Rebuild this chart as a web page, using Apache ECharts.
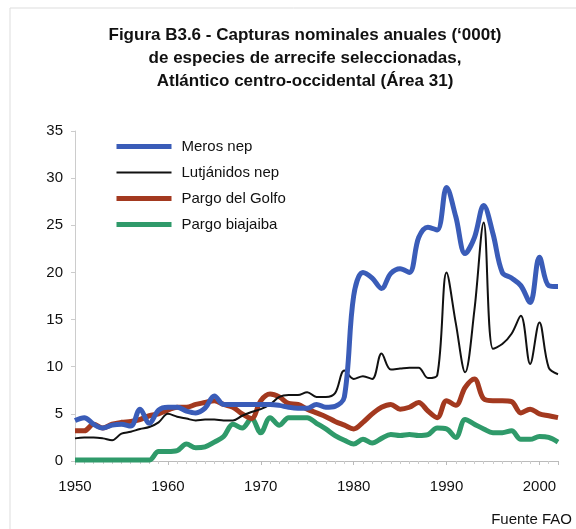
<!DOCTYPE html>
<html>
<head>
<meta charset="utf-8">
<script src="https://cdn.jsdelivr.net/npm/echarts@6/dist/echarts.min.js"></script>
<style>
	html, body { margin: 0; padding: 0; background: #fff; }
	#chart { width: 576px; height: 529px; }
</style>
</head>
<body>
<div id="chart"></div>
<script>
// años 1950 - 2002
var years = [];
for (var y = 1950; y <= 2002; ++y) {
	years.push(y);
}

// Meros nep
var meros = [4.3, 4.6, 3.9, 3.5, 3.8, 3.9, 3.7, 5.5, 4.0, 5.4,
	5.7, 5.7, 5.3, 5.1, 5.6, 6.9, 6.0, 6.0, 6.0, 6.0,
	6.0, 6.0, 5.9, 5.7, 5.6, 5.6, 6.0, 5.7, 5.8, 6.8,
	17.5, 20.0, 19.4, 18.3, 19.9, 20.4, 20.0, 23.7, 24.8, 24.5,
	29.0, 25.9, 22.0, 23.7, 27.1, 24.1, 20.0, 19.4, 18.6, 16.8,
	21.6, 18.6, 18.5];

// Lutjánidos nep
var lutjanidos = [2.4, 2.5, 2.5, 2.4, 2.2, 2.9, 3.1, 3.4, 3.6, 4.1,
	5.0, 4.7, 4.5, 4.3, 4.4, 4.4, 4.3, 4.3, 4.8, 5.2,
	5.5, 6.0, 6.8, 7.0, 7.0, 7.3, 6.8, 6.8, 7.2, 9.6,
	8.7, 9.0, 8.7, 11.4, 9.7, 9.8, 9.9, 9.9, 8.8, 9.1,
	20.0, 14.6, 9.4, 16.0, 25.3, 11.9, 12.4, 13.5, 15.4, 10.3,
	14.7, 9.9, 9.2];

// Pargo del Golfo
var pargoGolfo = [3.2, 3.2, 3.9, 3.5, 3.9, 4.1, 4.2, 4.4, 4.8, 5.0,
	5.4, 5.7, 5.7, 6.0, 6.2, 6.4, 6.0, 5.7, 5.0, 4.5,
	6.4, 7.1, 6.8, 6.1, 6.0, 5.5, 5.1, 4.7, 4.2, 3.8,
	3.4, 4.1, 5.0, 5.7, 6.0, 5.5, 5.7, 6.2, 5.3, 4.6,
	6.4, 5.9, 7.8, 8.7, 6.6, 6.4, 6.4, 6.3, 5.1, 5.5,
	5.0, 4.8, 4.6];

// Pargo biajaiba
var pargoBiajaiba = [0.1, 0.1, 0.1, 0.1, 0.1, 0.1, 0.1, 0.1, 0.1, 1.0,
	1.0, 1.1, 1.8, 1.4, 1.5, 2.0, 2.6, 3.9, 3.5, 4.5,
	3.0, 4.6, 3.8, 4.6, 4.6, 4.6, 4.0, 3.4, 2.7, 2.2,
	1.8, 2.3, 1.9, 2.4, 2.8, 2.7, 2.8, 2.7, 2.8, 3.5,
	3.4, 2.5, 4.4, 3.9, 3.4, 3.0, 3.0, 3.2, 2.3, 2.3,
	2.6, 2.5, 2.0];

var seriesNames = ['Meros nep', 'Lutjánidos nep', 'Pargo del Golfo', 'Pargo biajaiba'];
var seriesColors = ['#3a5cb8', '#111111', '#a3391f', '#2f9a6a'];
var seriesWidths = [5, 2, 5, 5];
var seriesValues = [meros, lutjanidos, pargoGolfo, pargoBiajaiba];

var yTicks = [0, 5, 10, 15, 20, 25, 30, 35];
var xTicks = [1950, 1960, 1970, 1980, 1990, 2000];

// pares [año, valor]
function toPairs(values) {
	var out = [];
	for (var i = 0; i < values.length; ++i) {
		out.push([years[i], values[i]]);
	}
	return out;
}

var font = '"Liberation Sans", Arial, sans-serif';
var series = [];
var legendData = [];
for (var i = 0; i < seriesNames.length; ++i) {
	series.push({
		name: seriesNames[i],
		type: 'line',
		smooth: 0.35,
		symbol: 'none',
		z: 10 - i,
		lineStyle: {
			color: seriesColors[i],
			width: seriesWidths[i]
		},
		itemStyle: {
			color: seriesColors[i]
		},
		data: toPairs(seriesValues[i])
	});
	// leyenda: sólo la línea, sin símbolo
	legendData.push({
		name: seriesNames[i],
		itemStyle: { opacity: 0 },
		lineStyle: { color: seriesColors[i], width: seriesWidths[i] }
	});
}

var myChart = echarts.init(document.getElementById('chart'));

var option = {
	animation: false,
	backgroundColor: '#fff',
	title: {
		text: 'Figura B3.6 - Capturas nominales anuales (‘000t)\nde especies de arrecife seleccionadas,\nAtlántico centro-occidental (Área 31)',
		left: 300,
		top: 19,
		textAlign: 'center',
		textStyle: {
			fontFamily: font,
			fontSize: 17,
			fontWeight: 'bold',
			lineHeight: 23,
			color: '#111'
		}
	},
	legend: {
		orient: 'vertical',
		left: 109,
		top: 134,
		itemWidth: 55,
		itemHeight: 14,
		itemGap: 11,
		data: legendData,
		itemStyle: { opacity: 0 },
		textStyle: {
			fontFamily: font,
			fontSize: 15,
			color: '#111',
			padding: [0, 0, 0, 5]
		}
	},
	grid: {
		left: 75,
		right: 18,
		top: 131,
		bottom: 68
	},
	xAxis: {
		type: 'value',
		min: xTicks[0],
		max: 2002,
		interval: 10,
		axisLine: { lineStyle: { color: '#bbb' } },
		axisTick: { show: true, length: 4, lineStyle: { color: '#bbb' } },
		minorTick: { show: true, splitNumber: 10, length: 3, lineStyle: { color: '#ccc' } },
		splitLine: { show: false },
		axisLabel: {
			margin: 18,
			fontFamily: font,
			fontSize: 15,
			color: '#111',
			formatter: function(v) {
				return xTicks.indexOf(v) >= 0 ? String(v) : '';
			}
		}
	},
	yAxis: {
		type: 'value',
		min: yTicks[0],
		max: yTicks[yTicks.length - 1],
		interval: 5,
		axisLine: { show: true, lineStyle: { color: '#ccc' } },
		axisTick: { show: true, length: 4, lineStyle: { color: '#ccc' } },
		splitLine: { show: false },
		axisLabel: {
			margin: 12,
			fontFamily: font,
			fontSize: 15,
			color: '#111'
		}
	},
	graphic: [{
		type: 'rect',
		shape: { x: 10, y: 8, width: 600, height: 560 },
		style: { fill: 'none', stroke: '#ddd', lineWidth: 1 },
		silent: true
	}, {
		type: 'text',
		x: 572,
		y: 520,
		style: {
			text: 'Fuente FAO',
			align: 'right',
			verticalAlign: 'middle',
			font: '15px ' + font,
			fill: '#111'
		}
	}],
	series: series
};

myChart.setOption(option);
</script>
</body>
</html>
